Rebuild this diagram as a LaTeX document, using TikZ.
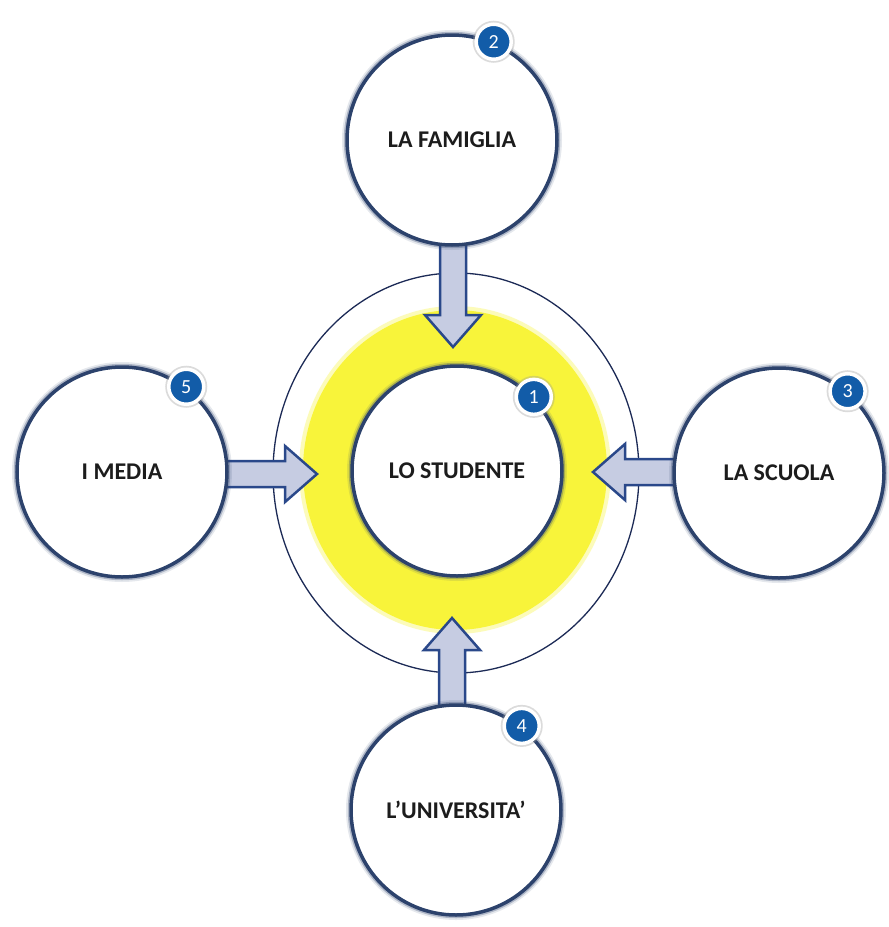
\documentclass[tikz,border=0pt]{standalone}
\usepackage{fontspec}
\setmainfont{Carlito}
\usetikzlibrary{calc,shapes.geometric}
\definecolor{rimcol}{RGB}{44,66,108}
\definecolor{arrfill}{RGB}{198,204,226}
\definecolor{arrline}{RGB}{42,72,138}
\definecolor{ringline}{RGB}{28,42,86}
\definecolor{yel}{RGB}{248,244,58}
\definecolor{badgecol}{RGB}{18,92,168}
\definecolor{txt}{RGB}{28,28,28}
\pgfdeclarelayer{bg}\pgfdeclarelayer{arr}\pgfsetlayers{bg,arr,main}
\tikzset{
  bubble/.style={circle, inner sep=0pt, minimum size=210pt, fill=white, draw=rimcol, line width=3.5pt,
    preaction={draw=rimcol, line width=10pt, opacity=0.12},
    preaction={draw=rimcol, line width=6.5pt, opacity=0.3},
    text=txt, font=\fontsize{24}{28}\selectfont\bfseries},
  badgest/.style={circle, inner sep=0pt, minimum size=35pt, fill=badgecol, draw=white, line width=3.5pt,
    preaction={draw=black!40, line width=7pt, opacity=0.35},
    text=white, font=\fontsize{20}{22}\selectfont},
  arrowbody/.style={fill=arrfill, draw=arrline, line width=2.5pt, line join=miter},
  ringst/.style={ellipse, inner sep=0pt, draw=ringline, line width=1.3pt, fill=white},
  yellowst/.style={ellipse, inner sep=0pt, fill=yel, preaction={draw=yel, line width=8pt, opacity=0.35}},
}
\newcommand\blockarrow[2]{%
  \coordinate (hb) at ($(#2)!32pt!(#1)$);
  \path[arrowbody] ($(#1)!13pt!90:(#2)$) -- ($(hb)!13pt!90:(#2)$) -- ($(hb)!28pt!90:(#2)$) -- (#2)
    -- ($(hb)!28pt!-90:(#2)$) -- ($(hb)!13pt!-90:(#2)$) -- ($(#1)!13pt!-90:(#2)$) -- cycle;
}
\begin{document}
\begin{tikzpicture}[x=1pt, y=-1pt]
\useasboundingbox (0,0) rectangle (889,927);
\begin{pgfonlayer}{bg}
  \fill[white] (0,0) rectangle (889,927);
  \node[ringst, minimum width=366pt, minimum height=400pt] (ring) at (456,473) {};
  \node[yellowst, minimum width=304pt, minimum height=320pt] (glow) at (455,470) {};
\end{pgfonlayer}
% circles
\node[bubble] (stu) at (457,471) {LO STUDENTE};
\node[bubble] (fam) at (452,140) {LA FAMIGLIA};
\node[bubble] (scu) at (779,473) {LA SCUOLA};
\node[bubble] (med) at (122,472) {I MEDIA};
\node[bubble] (uni) at (456,810) {L’UNIVERSITA’};
% badges
\node[badgest] (b1) at (stu.44) {1};
\node[badgest] (b2) at (fam.67) {2};
\node[badgest] (b3) at (scu.50) {3};
\node[badgest] (b4) at (uni.52) {4};
\node[badgest] (b5) at (med.53) {5};
% arrow tips and starts
\coordinate (tT) at (453,347);
\coordinate (tL) at (317,474);
\coordinate (tR) at (593,472);
\coordinate (tB) at (452,618);
\coordinate (sT) at (tT |- fam.center);
\coordinate (sL) at (med.center |- tL);
\coordinate (sR) at (scu.center |- tR);
\coordinate (sB) at (tB |- uni.center);
\begin{pgfonlayer}{arr}
  \blockarrow{sT}{tT}
  \blockarrow{sL}{tL}
  \blockarrow{sR}{tR}
  \blockarrow{sB}{tB}
\end{pgfonlayer}
\end{tikzpicture}
\end{document}
